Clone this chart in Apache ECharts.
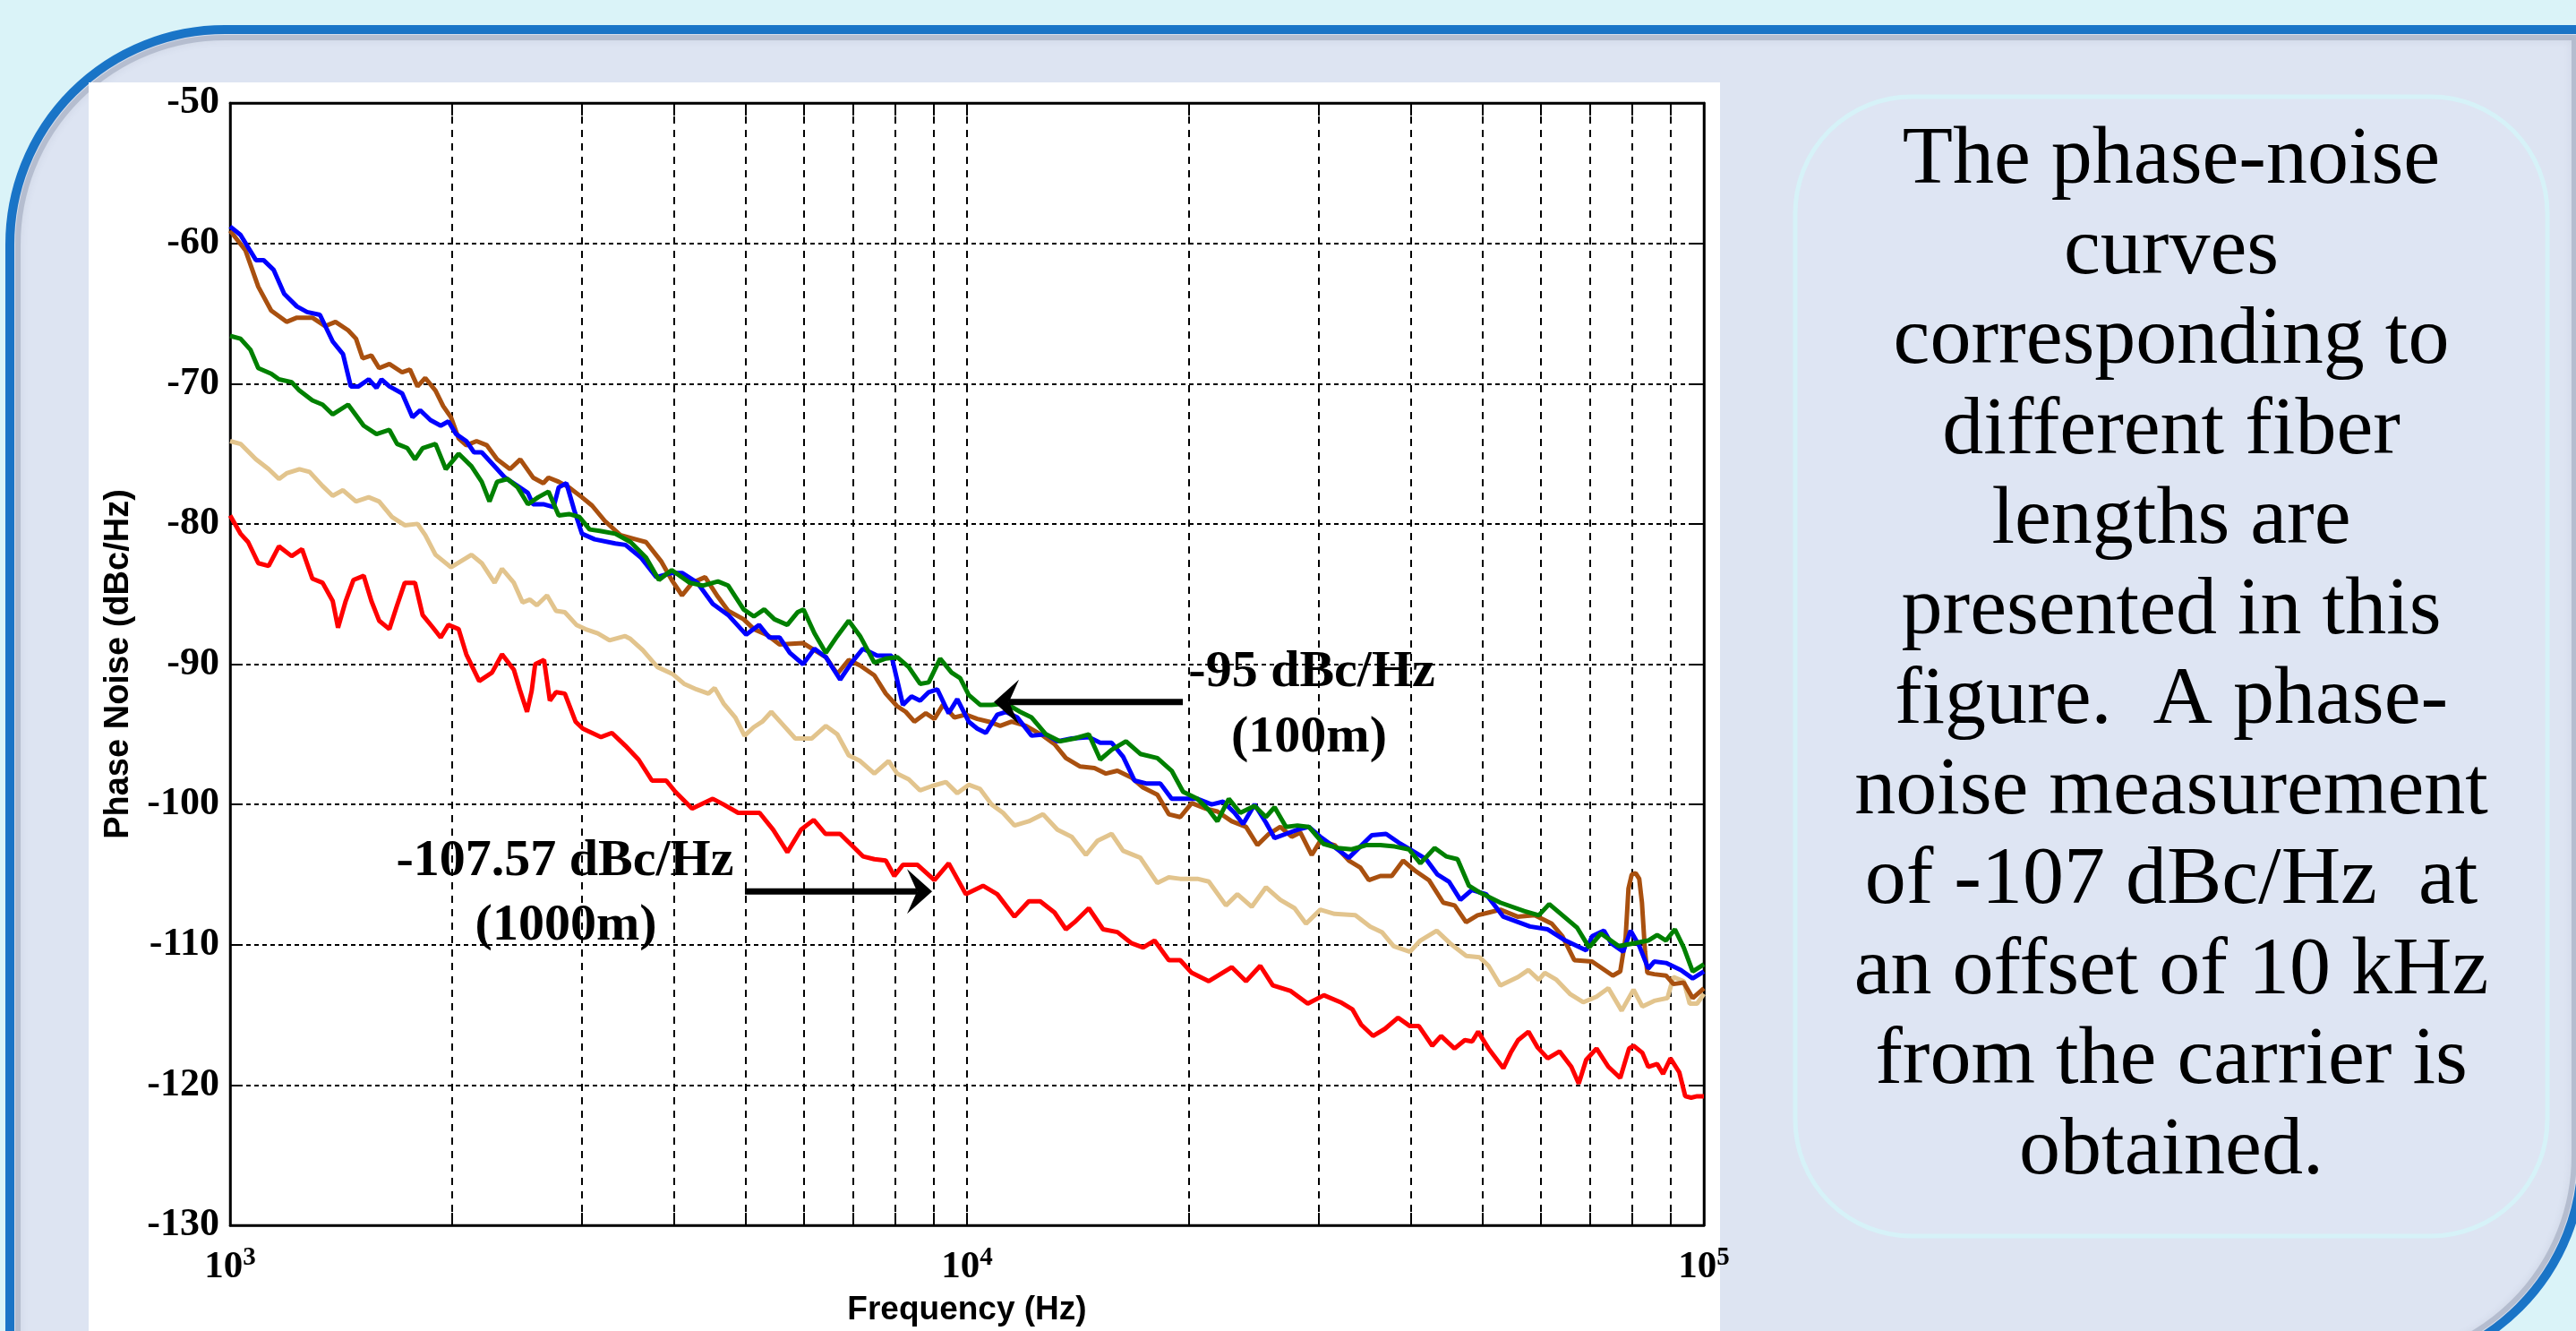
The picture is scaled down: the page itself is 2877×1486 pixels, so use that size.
<!DOCTYPE html>
<html>
<head>
<meta charset="utf-8">
<title>Phase noise vs fiber length</title>
<script src="https://cdn.jsdelivr.net/npm/echarts/dist/echarts.min.js"></script>
<style>
html, body { margin: 0; padding: 0; background: #daf3f8; }
#main { width: 2877px; height: 1486px; }
</style>
</head>
<body>
<div id="main"></div>
<script>
// phase noise curves, [frequency Hz, dBc/Hz]
var brown = [[1000,-59.1],[1049,-60.5],[1092,-63.1],[1137,-64.8],[1193,-65.6],[1232,-65.3],[1293,-65.3],[1346,-65.9],[1390,-65.6],[1446,-66.2],[1482,-66.8],[1513,-68.2],[1555,-68.0],[1593,-68.9],[1645,-68.6],[1712,-69.2],[1754,-69.0],[1796,-70.2],[1840,-69.6],[1900,-70.5],[1946,-71.6],[1994,-72.4],[2042,-73.9],[2092,-74.4],[2160,-74.1],[2231,-74.4],[2303,-75.4],[2398,-76.1],[2476,-75.4],[2577,-76.7],[2661,-77.1],[2704,-76.7],[2792,-77.0],[2884,-77.4],[3002,-78.1],[3099,-78.7],[3226,-79.8],[3385,-80.8],[3552,-81.1],[3668,-81.3],[3849,-82.7],[3975,-84.0],[4105,-85.1],[4238,-84.2],[4412,-83.8],[4592,-85.2],[4742,-86.2],[4976,-86.8],[5138,-87.5],[5348,-87.9],[5567,-88.6],
  [5990,-88.5],[6208,-89.0],[6434,-89.5],[6667,-90.7],[6910,-89.7],[7160,-90.1],[7486,-90.8],[7758,-92.1],[8040,-93.0],[8258,-93.4],[8483,-94.1],[8793,-93.5],[9032,-93.9],[9278,-92.9],[9614,-93.8],[9964,-93.6],[10327,-93.9],[10703,-94.1],[11092,-94.4],[11496,-94.1],[12021,-94.4],[12683,-95.1],[13144,-95.7],[13622,-96.7],[14244,-97.3],[14894,-97.4],[15436,-97.8],[16000,-97.6],[16731,-98.1],[17339,-98.8],[18128,-99.3],[18787,-100.7],[19470,-100.9],[20179,-99.9],[21100,-100.3],[21867,-100.5],[22866,-101.2],[23911,-101.6],[24781,-102.9],[25682,-102.1],[26616,-101.6],[27584,-102.3],[28333,-102.0],[29363,-103.6],[30160,-102.6],[31538,-102.9],[32978,-104.0],[34178,-104.5],[35106,-105.4],[36384,-105.1],[37708,-105.1],[39079,-104.0],[40501,-104.7],[42352,-105.4],[44286,-107.0],[45897,-107.2],[47566,-108.4],[49295,-107.9],[51088,-107.7],[52946,-107.5],[55857,-108.0],[58929,-107.9],[62172,-108.5],[64280,-109.4],[66700,-111.1],[70510,-111.2],[75230,-112.2],[77000,-111.9],[78300,-109.5],[79000,-106.0],[79800,-105.0],[80800,-104.9],[81700,-105.3],[82400,-107.0],[83200,-110.5],[83800,-112.0],[85610,-112.1],[88840,-112.2],[90910,-112.8],[93900,-112.7],[96550,-113.8],[100000,-113.1]];

var blue = [[1000,-58.8],[1033,-59.4],[1084,-61.2],[1110,-61.2],[1146,-61.9],[1184,-63.6],[1232,-64.5],[1272,-64.9],[1324,-65.1],[1378,-67.0],[1423,-67.9],[1458,-70.2],[1494,-70.2],[1542,-69.7],[1580,-70.3],[1605,-69.7],[1645,-70.2],[1712,-70.7],[1768,-72.4],[1811,-71.9],[1870,-72.6],[1931,-73.0],[1978,-72.7],[2026,-73.6],[2092,-74.1],[2143,-74.9],[2195,-74.9],[2267,-75.7],[2360,-76.7],[2456,-77.3],[2536,-77.8],[2577,-78.6],[2661,-78.6],[2748,-78.8],[2792,-77.4],[2860,-77.1],[2930,-79.0],[3002,-80.7],[3124,-81.1],[3332,-81.4],[3440,-81.5],[3610,-82.4],[3788,-83.8],[3975,-83.5],[4105,-83.5],[4307,-84.2],[4519,-85.7],[4742,-86.5],[5016,-87.9],[5221,-87.2],[5391,-88.1],[5567,-88.1],[5749,-89.2],
  [5990,-90.0],[6208,-88.9],[6434,-89.5],[6727,-91.1],[6972,-89.9],[7224,-88.9],[7553,-89.4],[7898,-89.4],[8185,-92.9],[8408,-92.3],[8637,-92.6],[8871,-92.0],[9113,-91.8],[9444,-93.5],[9701,-92.5],[10054,-94.1],[10327,-94.6],[10607,-94.9],[10993,-93.6],[11292,-93.4],[11703,-93.8],[12238,-95.1],[12797,-95.0],[13262,-95.5],[13867,-95.3],[14631,-95.2],[15163,-95.6],[15714,-95.6],[16288,-96.6],[16881,-98.3],[17495,-98.5],[18290,-98.5],[18956,-99.6],[19645,-99.6],[20542,-99.6],[21480,-100.0],[22262,-99.8],[23071,-100.6],[23698,-101.4],[24560,-100.0],[25454,-101.3],[26145,-102.4],[27095,-102.1],[28081,-101.8],[29102,-101.6],[30160,-102.3],[31257,-102.9],[32978,-103.8],[34178,-103.0],[35421,-102.2],[37040,-102.1],[38731,-102.8],[40501,-103.4],[41975,-103.9],[43502,-105.0],[45084,-105.5],[46724,-106.8],[48423,-106.1],[50634,-106.4],[53430,-108.0],[58070,-108.7],[61380,-108.9],[64870,-109.7],[69220,-110.4],[70510,-109.4],[73170,-109.0],[74880,-109.9],[77700,-110.5],[79520,-109.0],[81740,-110.1],[84040,-111.7],[85610,-111.2],[88840,-111.3],[93040,-111.8],[96550,-112.4],[100000,-111.9]];

var green = [[1000,-66.6],[1033,-66.8],[1066,-67.6],[1092,-68.9],[1137,-69.3],[1165,-69.7],[1212,-69.9],[1242,-70.5],[1293,-71.2],[1335,-71.5],[1378,-72.2],[1446,-71.5],[1518,-73.0],[1580,-73.6],[1645,-73.3],[1685,-74.3],[1740,-74.6],[1782,-75.4],[1825,-74.6],[1900,-74.3],[1962,-76.1],[2042,-75.0],[2126,-75.9],[2195,-77.0],[2249,-78.4],[2303,-77.0],[2379,-76.8],[2456,-77.4],[2536,-78.6],[2619,-78.1],[2704,-77.7],[2792,-79.4],[2884,-79.3],[2978,-79.5],[3075,-80.4],[3175,-80.5],[3332,-80.7],[3496,-81.3],[3668,-82.4],[3819,-84.0],[3975,-83.3],[4205,-84.2],[4377,-84.4],[4592,-84.1],[4742,-84.4],[4976,-86.1],[5138,-86.6],[5306,-86.1],[5479,-86.8],[5703,-87.2],[5889,-86.3],
  [6000,-86.1],[6208,-87.8],[6434,-89.2],[6667,-88.0],[6910,-86.9],[7160,-88.0],[7486,-89.9],[7758,-89.6],[8040,-89.5],[8333,-90.2],[8637,-91.4],[8871,-91.3],[9195,-89.6],[9529,-90.6],[9788,-91.0],[10054,-92.2],[10419,-92.9],[10798,-92.9],[11292,-92.8],[11808,-93.4],[12238,-93.8],[12797,-95.0],[13381,-95.5],[13991,-95.3],[14631,-95.0],[15163,-96.8],[15714,-96.1],[16434,-95.5],[17185,-96.4],[18128,-96.7],[18956,-97.6],[19645,-99.1],[20542,-99.6],[21289,-100.4],[21867,-101.2],[22662,-99.6],[23487,-100.6],[24560,-100.1],[25454,-100.9],[26145,-100.2],[27095,-101.6],[28081,-101.5],[29102,-101.6],[30431,-102.8],[31821,-103.1],[33274,-103.2],[34795,-102.9],[36384,-102.9],[38046,-103.0],[39783,-103.2],[41231,-104.2],[43115,-103.1],[44684,-103.7],[46309,-103.9],[47993,-105.8],[49737,-106.3],[52940,-107.0],[57010,-107.6],[59700,-107.9],[61670,-107.1],[64280,-107.9],[67320,-108.8],[69860,-110.2],[72500,-109.2],[76630,-110.1],[80260,-109.9],[84040,-109.7],[86410,-109.3],[88840,-109.7],[91330,-108.9],[93900,-110.2],[96550,-111.9],[100000,-111.4]];

var tan = [[1000,-74.1],[1033,-74.3],[1084,-75.4],[1128,-76.1],[1165,-76.8],[1193,-76.4],[1242,-76.1],[1282,-76.3],[1335,-77.3],[1378,-78.0],[1423,-77.6],[1482,-78.4],[1542,-78.1],[1593,-78.4],[1658,-79.5],[1726,-80.1],[1796,-80.0],[1840,-80.8],[1900,-82.2],[1994,-83.1],[2126,-82.2],[2195,-82.8],[2285,-84.2],[2339,-83.2],[2427,-84.2],[2494,-85.6],[2552,-85.4],[2608,-85.8],[2692,-85.1],[2769,-86.2],[2846,-86.3],[2951,-87.2],[3034,-87.5],[3155,-87.8],[3273,-88.3],[3436,-88.0],[3493,-88.2],[3631,-89.0],[3800,-90.2],[3984,-90.7],[4131,-91.4],[4296,-91.8],[4457,-92.1],[4545,-91.7],[4673,-92.8],[4849,-93.8],[4990,-95.1],[5133,-94.5],[5275,-94.1],[5425,-93.4],[5622,-94.3],[5848,-95.3],
  [6153,-95.3],[6434,-94.4],[6667,-95.0],[6910,-96.5],[7160,-96.9],[7486,-97.8],[7827,-96.9],[8040,-97.8],[8333,-98.2],[8637,-99.0],[8952,-98.7],[9361,-98.4],[9701,-99.2],[10054,-98.6],[10419,-98.9],[10798,-100.0],[11192,-100.6],[11599,-101.5],[12129,-101.2],[12683,-100.7],[13262,-101.8],[13867,-102.3],[14500,-103.6],[15028,-102.6],[15714,-102.1],[16288,-103.3],[17185,-103.8],[18128,-105.6],[18787,-105.2],[19470,-105.3],[20542,-105.3],[21289,-105.5],[22461,-107.2],[23278,-106.4],[24342,-107.3],[25454,-105.9],[26616,-106.8],[27832,-107.4],[28843,-108.5],[30160,-107.5],[31538,-107.8],[33650,-107.9],[35240,-108.7],[36560,-109.1],[37930,-110.1],[39910,-110.5],[41230,-109.7],[43390,-109.0],[45240,-109.9],[47590,-110.8],[49620,-110.9],[51020,-111.5],[52940,-112.9],[55960,-112.3],[57800,-111.8],[59700,-112.5],[60820,-112.0],[63100,-112.5],[65780,-113.5],[68580,-114.1],[71500,-113.7],[74190,-113.1],[77340,-114.7],[80260,-113.2],[82500,-114.4],[85610,-114.0],[89250,-113.8],[90910,-112.3],[93900,-112.6],[95660,-114.2],[97900,-114.2],[100000,-113.5]];

var red = [[1000,-79.4],[1033,-80.7],[1058,-81.3],[1092,-82.8],[1128,-83.0],[1165,-81.6],[1212,-82.3],[1252,-81.8],[1293,-83.9],[1335,-84.2],[1378,-85.5],[1401,-87.4],[1435,-85.5],[1470,-84.0],[1518,-83.7],[1555,-85.5],[1593,-86.9],[1645,-87.5],[1685,-85.8],[1726,-84.2],[1782,-84.2],[1825,-86.5],[1885,-87.4],[1931,-88.1],[1978,-87.2],[2042,-87.5],[2092,-89.3],[2178,-91.2],[2267,-90.6],[2339,-89.3],[2427,-90.4],[2472,-91.8],[2529,-93.4],[2566,-91.9],[2594,-90.0],[2667,-89.7],[2716,-92.6],[2769,-92.0],[2846,-92.1],[2943,-94.1],[3011,-94.6],[3187,-95.2],[3297,-94.9],[3436,-95.8],[3583,-96.8],[3737,-98.3],[3907,-98.3],[4020,-99.1],[4236,-100.3],[4519,-99.6],[4673,-100.0],[4891,-100.6],[5230,-100.6],[5457,-101.8],[5705,-103.4],[5953,-101.8],[6194,-101.1],[6426,-102.1],
  [6727,-102.1],[6972,-102.9],[7224,-103.7],[7486,-103.9],[7758,-104.0],[7969,-105.1],[8185,-104.3],[8561,-104.3],[9032,-105.4],[9444,-104.2],[9964,-106.4],[10513,-105.8],[10993,-106.4],[11599,-108.0],[12129,-106.9],[12570,-106.9],[13144,-107.7],[13622,-108.9],[13991,-108.4],[14631,-107.4],[15299,-108.9],[16000,-109.1],[16731,-109.9],[17339,-110.2],[17966,-109.7],[18787,-111.1],[19470,-111.1],[20179,-112.0],[21289,-112.6],[22866,-111.6],[23911,-112.6],[25000,-111.5],[26000,-112.9],[27500,-113.3],[29000,-114.2],[30500,-113.6],[32130,-114.1],[33340,-114.6],[34270,-115.7],[35560,-116.5],[36900,-116.0],[38460,-115.2],[39910,-115.8],[41040,-115.8],[42790,-117.2],[43990,-116.5],[45870,-117.4],[47370,-116.8],[48480,-116.9],[49390,-116.2],[51020,-117.4],[53430,-118.8],[54680,-117.7],[55960,-116.8],[57800,-116.2],[59430,-117.3],[61380,-118.1],[63690,-117.6],[66080,-118.7],[67630,-119.9],[69220,-118.2],[71500,-117.4],[74190,-118.7],[76990,-119.5],[79150,-117.4],[80260,-117.2],[82500,-117.7],[84040,-118.7],[86410,-118.5],[88020,-119.2],[90080,-118.1],[92610,-119.1],[94340,-120.8],[96100,-120.9],[97900,-120.8],[100000,-120.8]];

// minor log grid lines between decades
var minorFreqs = [2000,3000,4000,5000,6000,7000,8000,9000,20000,30000,40000,50000,60000,70000,80000,90000];

// annotations (data coords)
var annot1 = { text: '-95 dBc/Hz', sub: '(100m)', at: [29370, -90.6], subAt: [29120, -95.3], tail: [19630, -92.7], tip: [10877, -92.7] };
var annot2 = { text: '-107.57 dBc/Hz', sub: '(1000m)', at: [2847, -104.1], subAt: [2856, -108.7], tail: [4996, -106.2], tip: [8967, -106.2] };

var noteLines = ['The phase-noise', 'curves', 'corresponding to', 'different fiber', 'lengths are', 'presented in this', 'figure.  A phase-', 'noise measurement', 'of -107 dBc/Hz  at', 'an offset of 10 kHz', 'from the carrier is', 'obtained.'];

var chart = echarts.init(document.getElementById('main'));

function curve(data, color) {
    return {
        type: 'line', data: data, showSymbol: false, symbol: 'none', z: 3,
        lineStyle: { color: color, width: 5 }, itemStyle: { color: color }
    };
}

var serif = 'Liberation Serif';
var sans = 'Liberation Sans';

var option = {
    animation: false,
    grid: { left: 257, top: 115, width: 1646, height: 1256, show: true, borderColor: '#000', borderWidth: 2.5, backgroundColor: 'transparent' },
    xAxis: [{
        type: 'log', logBase: 10, min: 1000, max: 100000, position: 'bottom',
        name: 'Frequency (Hz)', nameLocation: 'middle', nameGap: 76,
        nameTextStyle: { fontFamily: sans, fontWeight: 'bold', fontSize: 37, color: '#000' },
        axisLine: { show: true, lineStyle: { color: '#000', width: 2.5 } },
        axisTick: { show: true, inside: true, length: 14, lineStyle: { color: '#000', width: 2 } },
        axisLabel: {
            margin: 22,
            formatter: function (v) { return '{b|10}{s|' + Math.round(Math.log10(v)) + '}'; },
            rich: {
                b: { fontFamily: serif, fontWeight: 'bold', fontSize: 43, color: '#000', lineHeight: 50 },
                s: { fontFamily: serif, fontWeight: 'bold', fontSize: 29, color: '#000', lineHeight: 10, verticalAlign: 'top' }
            }
        },
        splitLine: { show: true, lineStyle: { type: [8, 7], color: '#000', width: 2 } }
    }, {
        type: 'log', logBase: 10, min: 1000, max: 100000, position: 'top',
        axisLine: { show: true, lineStyle: { color: '#000', width: 2.5 } },
        axisTick: { show: true, inside: true, length: 14, lineStyle: { color: '#000', width: 2 } },
        axisLabel: { show: false }, splitLine: { show: false }
    }],
    yAxis: [{
        type: 'value', min: -130, max: -50, interval: 10, position: 'left',
        name: 'Phase Noise (dBc/Hz)', nameLocation: 'middle', nameGap: 105, nameRotate: 90,
        nameTextStyle: { fontFamily: sans, fontWeight: 'bold', fontSize: 38, color: '#000' },
        axisLine: { show: true, lineStyle: { color: '#000', width: 2.5 } },
        axisTick: { show: true, inside: true, length: 14, lineStyle: { color: '#000', width: 2 } },
        axisLabel: { fontFamily: serif, fontWeight: 'bold', fontSize: 44, color: '#000', margin: 12 },
        splitLine: { show: true, lineStyle: { type: [5, 4], color: '#000', width: 2 } }
    }, {
        type: 'value', min: -130, max: -50, interval: 10, position: 'right',
        axisLine: { show: true, lineStyle: { color: '#000', width: 2.5 } },
        axisTick: { show: true, inside: true, length: 14, lineStyle: { color: '#000', width: 2 } },
        axisLabel: { show: false }, splitLine: { show: false }
    }],
    series: [
        {
            type: 'line', data: [], z: 1,
            markLine: {
                silent: true, symbol: ['none', 'none'], z: 1, animation: false,
                label: { show: false },
                lineStyle: { type: [8, 7], color: '#000', width: 2 },
                data: minorFreqs.map(function (f) { return { xAxis: f }; })
            }
        },
        {
            type: 'line', data: [], z: 1,
            markLine: {
                silent: true, symbol: ['none', 'none'], z: 1, animation: false,
                label: { show: false },
                lineStyle: { type: 'solid', color: '#000', width: 2 },
                data: minorFreqs.reduce(function (acc, f) {
                    acc.push([{ coord: [f, -130] }, { coord: [f, -129.1] }]);
                    acc.push([{ coord: [f, -50] }, { coord: [f, -50.9] }]);
                    return acc;
                }, [])
            }
        },
        curve(tan, '#e2c48d'),
        curve(red, '#ff0000'),
        curve(brown, '#a9500f'),
        curve(blue, '#0000ff'),
        curve(green, '#008000')
    ]
};
chart.setOption(option);

// slide decoration
var decor = [
    { type: 'rect', z: -100, shape: { x: 11, y: 33, width: 2873, height: 1497, r: [240, 0, 240, 0] },
      style: { fill: '#dde4f2', stroke: '#1a75c8', lineWidth: 10 } },
    { type: 'rect', z: -99, shape: { x: 20, y: 42, width: 2855, height: 1479, r: [231, 0, 231, 0] },
      style: { fill: 'none', stroke: 'rgba(110,120,145,0.30)', lineWidth: 6, shadowBlur: 8, shadowColor: 'rgba(90,100,125,0.4)' } },
    { type: 'rect', z: -98, shape: { x: 99, y: 92, width: 1822, height: 1400 }, style: { fill: '#ffffff' } },
    { type: 'rect', z: -98, shape: { x: 2005, y: 108, width: 840, height: 1272, r: 130 },
      style: { fill: '#dee5f3', stroke: '#d6f2f8', lineWidth: 5 } },
    { type: 'text', z: -97, x: 2425, y: 130,
      style: { text: noteLines.join('\n'), fontFamily: serif, fontSize: 92, fill: '#000', align: 'center', verticalAlign: 'top', lineHeight: 100.5 } }
];

function arrow(a) {
    var tail = chart.convertToPixel({ gridIndex: 0 }, a.tail);
    var tip = chart.convertToPixel({ gridIndex: 0 }, a.tip);
    var dir = tip[0] < tail[0] ? 1 : -1; // head points left when dir = 1
    var L = 28, W = 25;
    var back = tip[0] + dir * L * 0.6;
    return [
        { type: 'line', z: 10, shape: { x1: tail[0], y1: tail[1], x2: back, y2: tip[1] }, style: { stroke: '#000', lineWidth: 7 } },
        { type: 'polygon', z: 10, shape: { points: [[tip[0], tip[1]], [tip[0] + dir * L, tip[1] - W], [back, tip[1]], [tip[0] + dir * L, tip[1] + W]] }, style: { fill: '#000' } }
    ];
}

function label(a) {
    var p1 = chart.convertToPixel({ gridIndex: 0 }, a.at);
    var p2 = chart.convertToPixel({ gridIndex: 0 }, a.subAt);
    var st = { fontFamily: serif, fontWeight: 'bold', fontSize: 58, fill: '#000', align: 'center', verticalAlign: 'middle' };
    return [
        { type: 'text', z: 10, x: p1[0], y: p1[1], style: Object.assign({ text: a.text }, st) },
        { type: 'text', z: 10, x: p2[0], y: p2[1], style: Object.assign({ text: a.sub }, st) }
    ];
}

chart.setOption({
    graphic: decor.concat(arrow(annot1), label(annot1), arrow(annot2), label(annot2))
});
</script>
</body>
</html>
